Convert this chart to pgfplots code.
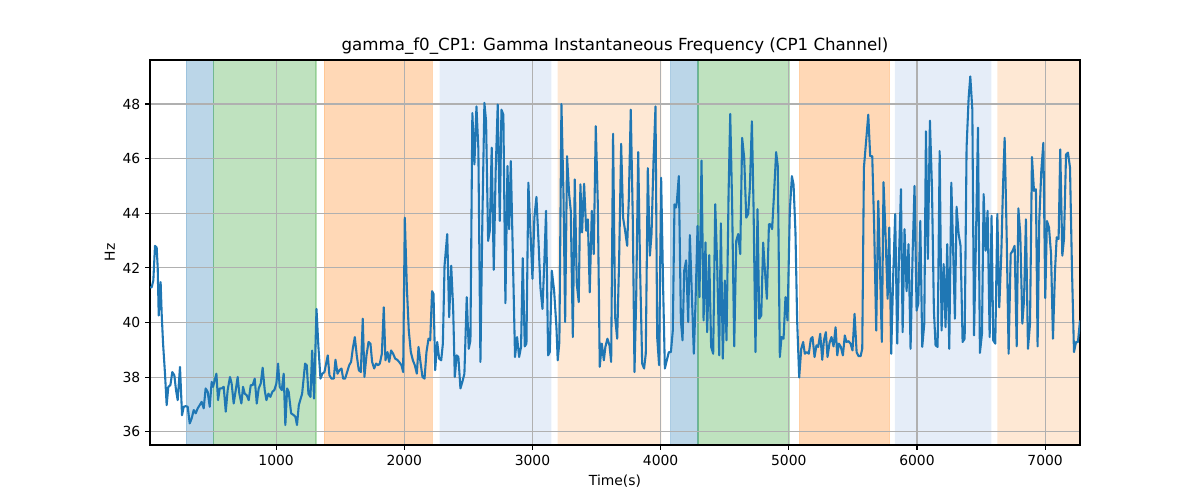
\documentclass[border=0pt]{standalone}
\usepackage{fontspec}
\setmainfont{DejaVu Sans}
\usepackage{pgfplots}
\pgfplotsset{compat=1.18}
\definecolor{tabblue}{HTML}{1F77B4}
\definecolor{tabgreen}{HTML}{2CA02C}
\definecolor{taborange}{HTML}{FF7F0E}
\definecolor{gridgray}{HTML}{B0B0B0}
\definecolor{lightblueband}{HTML}{E5EDF8}
\definecolor{lightorangeband}{HTML}{FEE8D4}
\pgfplotsset{
  every axis title shift=0pt,
  band/.style n args={2}{fill=#1, fill opacity=#2, draw=#1, draw opacity=#2, line width=1pt, forget plot, on layer=axis background},
  lband/.style={fill=#1, draw=none, forget plot, on layer=axis background},
}
\begin{document}
\begin{tikzpicture}
\begin{axis}[
  set layers=standard,
  at={(0,0)}, anchor=south west,
  scale only axis, width=669.6pt, height=277.2pt,
  xmin=16, xmax=7272, ymin=35.52, ymax=49.61,
  xtick={1000,2000,3000,4000,5000,6000,7000},
  ytick={36,38,40,42,44,46,48},
  tick pos=left, tick align=outside,
  major tick length=3.5pt,
  every tick/.style={black, line width=0.8pt},
  axis line style={line width=0.8pt},
  grid=major,
  major grid style={gridgray, line width=0.8pt},
  tick label style={font=\fontsize{10}{12}\selectfont},
  /pgf/number format/assume math mode=true,
  /pgf/number format/1000 sep={},
  title={gamma\_f0\_CP1: Gamma Instantaneous Frequency (CP1 Channel)},
  title style={at={(axis description cs:0.5,1.0364)}, anchor=center, font=\fontsize{12}{14}\selectfont},
  xlabel={Time(s)},
  xlabel style={at={(axis description cs:0.5,-0.0938)}, anchor=center, font=\fontsize{10}{12}\selectfont},
  ylabel={Hz},
  ylabel style={at={(axis description cs:-0.0433,0.5)}, anchor=center, font=\fontsize{10}{12}\selectfont},
]
\addplot[band={tabblue}{0.3}] coordinates {(300,35.52) (510,35.52) (510,49.61) (300,49.61)} \closedcycle;
\addplot[band={tabgreen}{0.3}] coordinates {(510,35.52) (1312,35.52) (1312,49.61) (510,49.61)} \closedcycle;
\addplot[band={taborange}{0.3}] coordinates {(1377,35.52) (2218,35.52) (2218,49.61) (1377,49.61)} \closedcycle;
\addplot[lband=lightblueband] coordinates {(2275,35.52) (3147,35.52) (3147,49.61) (2275,49.61)} \closedcycle;
\addplot[lband=lightorangeband] coordinates {(3196,35.52) (4005,35.52) (4005,49.61) (3196,49.61)} \closedcycle;
\addplot[band={tabblue}{0.3}] coordinates {(4078,35.52) (4291,35.52) (4291,49.61) (4078,49.61)} \closedcycle;
\addplot[band={tabgreen}{0.3}] coordinates {(4291,35.52) (5002,35.52) (5002,49.61) (4291,49.61)} \closedcycle;
\addplot[band={taborange}{0.3}] coordinates {(5085,35.52) (5785,35.52) (5785,49.61) (5085,49.61)} \closedcycle;
\addplot[lband=lightblueband] coordinates {(5827,35.52) (6581,35.52) (6581,49.61) (5827,49.61)} \closedcycle;
\addplot[lband=lightorangeband] coordinates {(6628,35.52) (7272,35.52) (7272,49.61) (6628,49.61)} \closedcycle;
\addplot[tabblue, line width=1.5pt, line join=round, mark=none] coordinates {
(16,41.29)(29,41.29)(42,41.54)(55,42.81)(68,42.75)(76,42.02)(84,40.26)(92,40.93)(99,41.48)(107,40.33)(118,39.23)(133,38.13)(146,36.98)(159,37.65)(175,37.71)(190,38.19)(206,38.07)(219,37.53)(232,37.16)(250,38.38)(266,36.61)(279,36.92)(294,36.94)(310,36.92)(326,36.31)(341,36.49)(357,36.80)(373,36.68)(388,36.86)(404,36.98)(419,37.10)(435,36.86)(450,37.59)(466,37.47)(482,36.92)(497,37.83)(508,37.65)(521,37.89)(534,38.13)(547,37.16)(560,37.59)(576,37.59)(591,37.65)(607,36.74)(622,37.53)(640,38.01)(653,37.77)(669,37.04)(685,37.53)(700,38.01)(713,37.40)(729,37.04)(742,37.65)(755,37.40)(771,37.34)(786,37.16)(802,37.71)(817,37.71)(833,37.95)(849,37.04)(864,37.59)(880,37.77)(895,38.35)(911,37.53)(924,37.16)(940,37.40)(955,37.28)(971,37.47)(986,37.53)(1002,37.77)(1015,38.50)(1028,37.65)(1044,37.53)(1059,38.13)(1072,36.25)(1086,37.59)(1098,37.47)(1117,36.68)(1135,36.62)(1150,36.56)(1163,36.25)(1177,36.98)
(1203,37.40)(1226,38.50)(1239,38.44)(1252,37.40)(1268,37.28)(1281,38.98)(1296,37.22)(1315,40.50)(1330,39.11)(1346,37.95)(1361,38.13)(1377,38.19)(1390,38.50)(1403,38.80)(1416,38.07)(1432,37.95)(1450,37.95)(1463,38.64)(1479,38.13)(1494,38.26)(1510,38.32)(1523,37.95)(1538,37.95)(1554,38.19)(1570,38.44)(1585,38.56)(1598,39.04)(1614,39.47)(1629,38.80)(1645,38.26)(1661,38.19)(1676,40.14)(1689,38.01)(1705,38.80)(1721,39.29)(1736,39.23)(1749,38.56)(1765,38.32)(1780,38.50)(1796,38.44)(1809,38.50)(1825,38.86)(1840,40.56)(1853,38.62)(1869,38.92)(1882,38.56)(1897,38.98)(1913,38.86)(1929,38.68)(1944,38.64)(1960,38.56)(1978,38.44)(1991,38.19)(2004,43.84)(2020,41.29)(2035,39.71)(2051,38.92)(2067,38.62)(2082,38.44)(2098,38.13)(2111,39.11)(2126,38.56)(2142,38.01)(2158,37.95)(2173,38.92)(2189,39.41)(2202,39.35)(2217,41.15)(2228,41.05)(2241,38.26)(2257,39.29)(2272,38.68)(2288,38.62)(2301,39.23)(2314,42.08)(2335,43.24)(2350,40.20)(2366,42.08)(2381,40.56)(2394,38.01)
(2409,38.80)(2422,38.74)(2438,37.59)(2453,37.83)(2469,38.13)(2487,40.93)(2503,39.04)(2516,39.35)(2531,47.67)(2547,45.79)(2563,47.91)(2578,46.34)(2594,38.56)(2609,43.72)(2625,48.04)(2638,47.37)(2654,42.99)(2667,43.36)(2682,46.40)(2698,41.93)(2713,45.55)(2729,47.98)(2745,43.72)(2758,47.79)(2773,47.61)(2789,40.71)(2805,45.73)(2818,43.42)(2831,45.91)(2849,42.02)(2864,38.74)(2880,39.47)(2896,38.74)(2911,39.11)(2924,42.36)(2940,39.13)(2953,39.23)(2968,45.12)(2984,43.36)(3000,41.60)(3015,43.84)(3031,44.60)(3047,42.99)(3062,41.29)(3078,40.50)(3093,42.26)(3106,44.09)(3122,38.80)(3135,38.92)(3151,41.90)(3169,41.17)(3187,39.83)(3197,38.62)(3210,39.29)(3226,48.00)(3242,44.70)(3255,40.02)(3270,46.09)(3286,44.70)(3299,44.09)(3315,39.47)(3330,45.24)(3346,41.41)(3361,40.75)(3374,45.06)(3387,43.30)(3403,45.08)(3419,43.36)(3432,43.78)(3447,41.11)(3463,44.09)(3478,42.51)(3494,47.19)(3510,44.33)(3525,38.38)(3541,39.23)(3557,38.62)(3569,39.11)(3585,39.41)(3601,39.17)(3614,38.56)(3629,46.91)
(3645,40.20)(3661,39.41)(3676,42.26)(3692,46.54)(3707,43.84)(3723,43.36)(3739,42.81)(3752,44.57)(3767,47.79)(3783,43.72)(3796,38.19)(3809,40.81)(3825,46.24)(3840,41.90)(3856,38.50)(3871,38.32)(3884,38.86)(3900,45.65)(3916,42.45)(3929,43.24)(3944,45.85)(3960,47.91)(3973,39.47)(3988,38.44)(4004,45.30)(4020,41.17)(4033,38.32)(4048,38.62)(4064,38.92)(4080,38.92)(4095,39.71)(4108,44.33)(4119,44.21)(4126,44.39)(4142,45.36)(4158,40.08)(4171,39.35)(4184,41.90)(4199,42.28)(4215,40.02)(4228,43.20)(4243,41.11)(4259,38.86)(4272,40.69)(4288,43.54)(4303,40.93)(4319,45.93)(4335,40.08)(4350,42.93)(4363,39.65)(4379,42.47)(4394,39.11)(4410,38.86)(4426,44.33)(4441,42.14)(4457,38.80)(4470,43.63)(4485,38.68)(4501,41.54)(4514,39.35)(4530,44.70)(4543,47.64)(4558,44.27)(4574,39.13)(4590,42.99)(4605,43.24)(4621,42.51)(4636,46.76)(4652,46.03)(4668,43.84)(4683,43.97)(4696,44.94)(4712,47.37)(4725,44.21)(4740,38.92)(4756,44.15)(4769,40.14)(4785,40.26)(4800,42.93)(4813,41.96)(4829,40.87)(4845,43.60)
(4855,43.60)(4870,43.42)(4886,44.82)(4901,46.24)(4914,45.73)(4930,38.74)(4943,39.47)(4959,39.41)(4974,40.93)(4990,40.08)(5008,44.09)(5024,45.36)(5037,45.06)(5052,43.30)(5065,40.08)(5081,37.99)(5097,39.04)(5112,39.29)(5125,38.86)(5141,38.92)(5156,38.86)(5172,39.41)(5185,39.47)(5201,38.74)(5216,39.17)(5229,39.11)(5245,39.59)(5261,38.64)(5274,39.35)(5289,39.65)(5302,38.74)(5318,39.26)(5333,39.47)(5349,39.13)(5365,39.83)(5378,38.80)(5391,39.23)(5406,39.11)(5422,38.80)(5437,39.53)(5450,39.29)(5466,39.32)(5482,39.23)(5497,38.98)(5513,40.32)(5529,38.92)(5544,38.77)(5560,38.77)(5573,39.04)(5586,45.67)(5601,46.52)(5620,47.61)(5635,46.09)(5651,46.09)(5666,43.48)(5682,39.71)(5698,44.45)(5713,41.72)(5726,39.29)(5739,45.14)(5755,43.18)(5771,40.87)(5784,43.48)(5799,38.86)(5815,41.78)(5830,43.97)(5846,39.23)(5859,42.26)(5875,44.88)(5888,39.65)(5903,43.42)(5919,41.15)(5934,42.87)(5950,39.04)(5966,42.53)(5981,45.00)(5997,40.44)(6010,40.69)(6026,43.72)(6041,39.11)
(6057,39.96)(6070,47.00)(6085,42.33)(6101,47.39)(6117,44.94)(6132,40.44)(6145,39.17)(6161,39.11)(6177,46.28)(6192,39.71)(6208,42.14)(6223,39.83)(6236,42.87)(6252,39.04)(6268,45.12)(6283,42.51)(6296,40.14)(6309,44.24)(6325,43.24)(6340,42.81)(6356,39.29)(6372,39.41)(6387,46.40)(6403,48.22)(6416,49.01)(6432,47.79)(6445,39.53)(6460,42.99)(6476,47.13)(6491,38.89)(6507,39.59)(6520,44.70)(6536,42.63)(6551,44.09)(6567,39.47)(6582,43.91)(6595,39.35)(6611,39.23)(6627,43.97)(6642,40.56)(6658,42.51)(6671,44.94)(6684,46.76)(6700,43.12)(6715,38.86)(6731,42.51)(6746,42.63)(6762,42.81)(6778,39.13)(6791,44.18)(6806,43.24)(6822,39.96)(6835,40.81)(6850,43.78)(6866,39.04)(6882,39.96)(6897,46.06)(6913,44.82)(6928,44.88)(6941,39.13)(6954,43.72)(6970,45.55)(6986,46.58)(7001,40.90)(7014,43.72)(7030,43.48)(7046,42.51)(7061,39.41)(7077,41.90)(7090,43.12)(7105,43.06)(7118,46.34)(7134,42.45)(7147,43.06)(7163,46.15)(7178,46.22)(7194,45.67)(7209,42.02)(7225,38.92)(7241,39.29)(7256,39.29)(7272,40.08)
};
\end{axis}
\pgfresetboundingbox
\useasboundingbox (-108pt,-39.6pt) rectangle (756pt,320.4pt);
\end{tikzpicture}
\end{document}
